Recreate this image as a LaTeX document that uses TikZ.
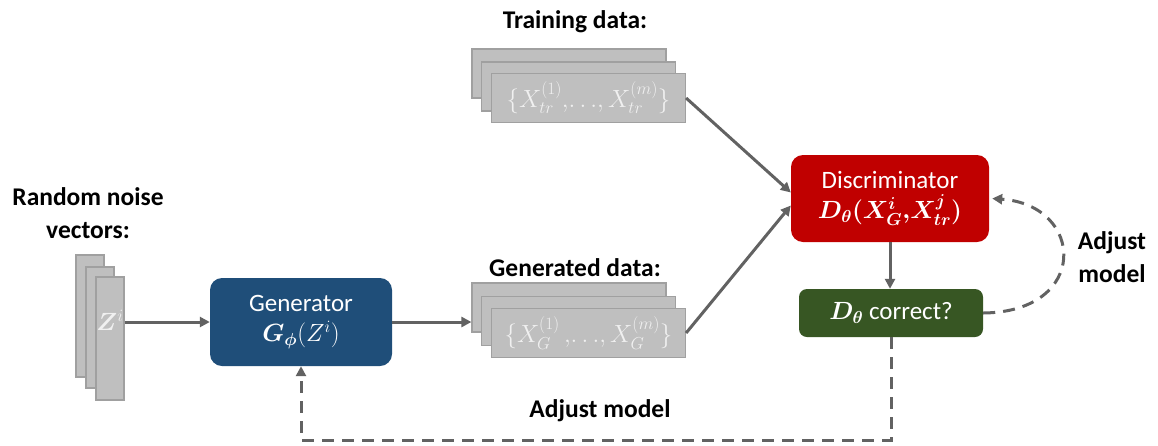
\documentclass[tikz,border=0pt]{standalone}
\usepackage{fontspec}
\setmainfont{Carlito}
\usepackage{amsmath,bm}
\DeclareMathSizes{25}{25}{19}{15}
\usetikzlibrary{arrows.meta,calc}
\definecolor{linegray}{RGB}{98,98,98}
\definecolor{stackfill}{RGB}{191,191,191}
\definecolor{stackdraw}{RGB}{160,160,160}
\definecolor{stacktext}{RGB}{240,240,240}
\definecolor{genblue}{RGB}{31,78,121}
\definecolor{discred}{RGB}{192,0,0}
\definecolor{corrgreen}{RGB}{55,86,35}
\tikzset{
  stackbox/.style={draw=stackdraw, fill=stackfill, line width=1.2pt, inner sep=0pt, text=stacktext},
  mainbox/.style={rounded corners=12pt, text=white, align=center, inner sep=0pt},
  lbl/.style={font=\fontsize{25.5}{33}\selectfont\bfseries, align=center},
  conn/.style={draw=linegray, line width=3pt, -{Triangle[length=10pt,width=10pt]}},
  dconn/.style={conn, dash pattern=on 12pt off 8pt},
}
\begin{document}
\begin{tikzpicture}[x=1pt,y=-1pt]
\useasboundingbox (0,0) rectangle (1158,445);
\fontsize{25}{30}\selectfont
% labels
\node[lbl] (ltr) at (575,22) {Training data:};
\node[lbl] (lgen) at (575,268) {Generated data:};
\node[lbl] (lnoise) at (88,213) {Random noise\\vectors:};
\node[lbl] (ladj1) at (600,411) {Adjust model};
\node[lbl] (ladj2) at (1112,257) {Adjust\\model};
% training stack
\node[stackbox, minimum width=194pt, minimum height=49pt] (tr1) at (569,73.5) {};
\node[stackbox, minimum width=194pt, minimum height=49pt] (tr2) at (578.5,86.5) {};
\node[stackbox, minimum width=194pt, minimum height=49pt] (tr3) at (588.5,98) {$\{X_{tr}^{(1)}{,}{\ldots}{,}\,X_{tr}^{(m)}\}$};
% generated stack
\node[stackbox, minimum width=194pt, minimum height=49pt] (g1) at (569,307.5) {};
\node[stackbox, minimum width=194pt, minimum height=49pt] (g2) at (578.5,321) {};
\node[stackbox, minimum width=194pt, minimum height=49pt] (g3) at (588.5,333) {$\{X_{G}^{(1)}\,{,}{\ldots}{,}\,X_{G}^{(m)}\}$};
% noise stack
\node[stackbox, minimum width=28pt, minimum height=122pt] (z1) at (90,316) {};
\node[stackbox, minimum width=28pt, minimum height=121pt] (z2) at (100,327.5) {};
\node[stackbox, minimum width=28pt, minimum height=123pt] (z3) at (110,338.5) {};
\node[text=stacktext, inner sep=0pt] (zl) at (110,320) {$\bm{Z}^i$};
% main boxes
\node[mainbox, fill=genblue, minimum width=182pt, minimum height=88pt] (gen) at (301,322)
  {Generator\\[0pt]$\bm{G}_{\bm{\phi}}(Z^i)$};
\node[mainbox, fill=discred, minimum width=198pt, minimum height=87pt] (disc) at (890,198.5)
  {Discriminator\\[0pt]$\bm{D_\theta(X^i_G{,}X^j_{tr})}$};
\node[mainbox, fill=corrgreen, minimum width=184pt, minimum height=48pt, rounded corners=8pt] (corr) at (891,313)
  {$\bm{D}_{\bm{\theta}}$ correct?};
% connectors
\draw[conn] (z3.east |- gen.west) -- (gen.west);
\draw[conn] (gen.east) -- (g1.west |- gen.east);
\draw[conn] (tr3.east) -- ($(disc.west)+(0,-6)$);
\draw[conn] (g3.east) -- ($(disc.west)+(0,7)$);
\draw[conn] (disc.south) -- (corr.north -| disc.south);
\coordinate (bl) at (301,440);
\draw[dconn] (corr.south) |- (bl) -- (gen.south);
\draw[dconn] (corr.east) .. controls (1090,312) and (1085,205) .. ($(disc.east)+(3,0)$);
\end{tikzpicture}
\end{document}
